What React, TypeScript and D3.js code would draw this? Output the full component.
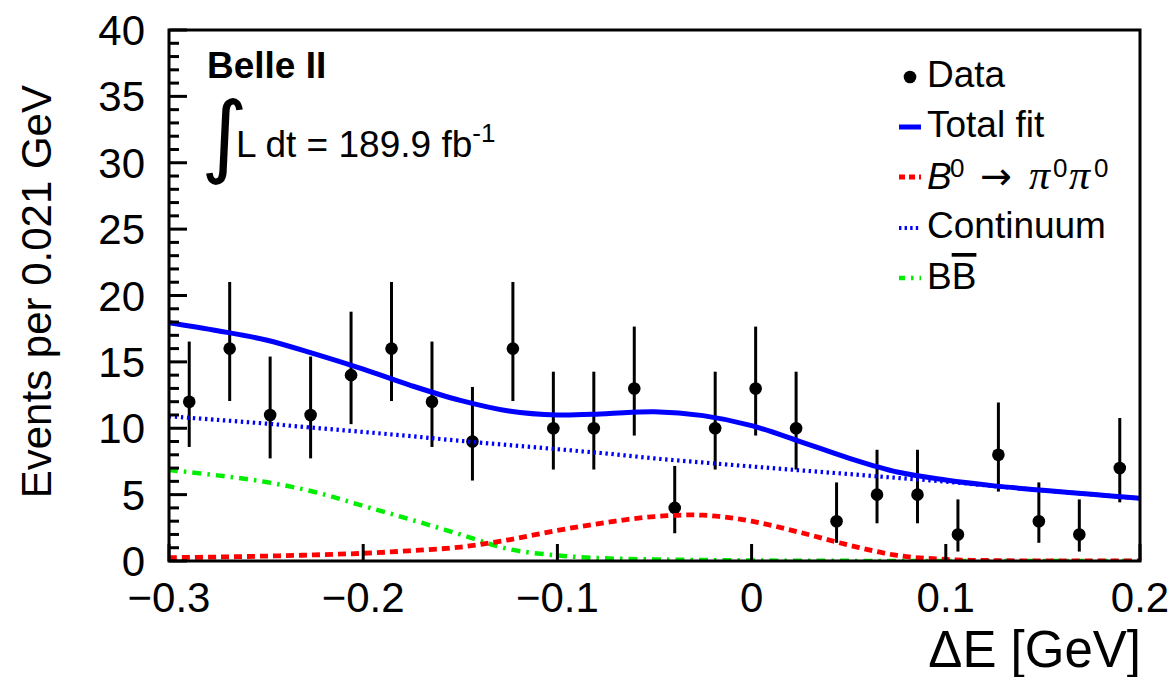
import React from 'react';
import * as d3 from 'd3';

// ---- data ----
const xRange = [-0.3, 0.2];
const yRange = [0, 40];
const nBins = 24;
const counts = [12, 16, 11, 11, 14, 16, 12, 9, 16, 10, 10, 13, 4, 10, 13, 10, 3, 5, 5, 2, 8, 3, 2, 7];
const errLo = [3.41, 3.95, 3.27, 3.27, 3.69, 3.95, 3.41, 2.94, 3.95, 3.11, 3.11, 3.55, 1.91, 3.11, 3.55, 3.11, 1.63, 2.16, 2.16, 1.29, 2.77, 1.63, 1.29, 2.58];
const errHi = [4.53, 5.02, 4.4, 4.4, 4.78, 5.02, 4.53, 4.11, 5.02, 4.26, 4.26, 4.66, 3.16, 4.26, 4.66, 4.26, 2.92, 3.38, 3.38, 2.64, 3.94, 2.92, 2.64, 3.77];

const curveX = [-0.3, -0.275, -0.25, -0.225, -0.2, -0.175, -0.15, -0.125, -0.1, -0.075, -0.05, -0.025, 0, 0.025, 0.05, 0.075, 0.1, 0.125, 0.15, 0.175, 0.2];
const totalFit = [17.95, 17.35, 16.65, 15.6, 14.45, 13.2, 12.1, 11.3, 11.0, 11.1, 11.25, 10.95, 10.2, 9.0, 7.75, 6.7, 6.1, 5.66, 5.33, 5.03, 4.72];
const signal = [0.25, 0.3, 0.37, 0.46, 0.58, 0.78, 1.05, 1.6, 2.3, 2.9, 3.35, 3.45, 3.0, 2.15, 1.2, 0.42, 0.12, 0.03, 0.01, 0, 0];
const continuum = [10.9, 10.63, 10.35, 10.03, 9.72, 9.4, 9.05, 8.73, 8.42, 8.1, 7.73, 7.42, 7.12, 6.83, 6.55, 6.26, 5.98, 5.64, 5.32, 5.02, 4.72];
const bbbar = [6.85, 6.45, 5.95, 5.2, 4.15, 3.1, 2.0, 0.9, 0.42, 0.2, 0.12, 0.07, 0.04, 0.02, 0.01, 0, 0, 0, 0, 0, 0];

const xTicks = [-0.3, -0.2, -0.1, 0, 0.1, 0.2];
const yTicks = [0, 5, 10, 15, 20, 25, 30, 35, 40];
const yMinorTicks = d3.range(0, 41, 1);

const FONT = '"Liberation Sans", Arial, Helvetica, sans-serif';
const SERIF = '"Liberation Serif", "Times New Roman", serif';

export default function App() {
  const W = 1175, H = 677;
  const L = 169, R = 1140, T = 30, B = 561;
  const x = d3.scaleLinear().domain(xRange).range([L, R]);
  const y = d3.scaleLinear().domain(yRange).range([B, T]);
  const binW = (xRange[1] - xRange[0]) / nBins;
  const centers = counts.map((_, i) => xRange[0] + (i + 0.5) * binW);

  const mkLine = (vals: number[]) =>
    d3.line<number>().x((_, i) => x(curveX[i])).y((v) => y(v)).curve(d3.curveCatmullRom.alpha(0.5))(vals) || '';

  const fmtX = (v: number) => (v < 0 ? '\u2212' : '') + (v === 0 ? '0' : Math.abs(v).toFixed(1));

  return (
    <svg width={W} height={H} style={{ position: 'absolute', left: 0, top: 0, background: '#fff' }} fontFamily={FONT}>
      <defs>
        <clipPath id="plotclip">
          <rect x={L} y={T} width={R - L} height={B - T} />
        </clipPath>
      </defs>
      <rect x={0} y={0} width={W} height={H} fill="#fff" />

      {/* data error bars and markers */}
      <g>
        {counts.map((c, i) => (
          <line key={'e' + i} x1={x(centers[i])} x2={x(centers[i])} y1={y(c - errLo[i])} y2={y(c + errHi[i])} stroke="#000" strokeWidth={3} />
        ))}
        {counts.map((c, i) => (
          <circle key={'m' + i} cx={x(centers[i])} cy={y(c)} r={6.3} fill="#000" />
        ))}
      </g>

      {/* curves */}
      <g clipPath="url(#plotclip)" fill="none">
        <path d={mkLine(continuum)} stroke="#0000ff" strokeWidth={4.2} strokeDasharray="2.4 3.6" />
        <path d={mkLine(bbbar)} stroke="#00ee00" strokeWidth={4.5} strokeDasharray="9 6 2.5 6" />
        <path d={mkLine(signal)} stroke="#ff0000" strokeWidth={4.8} strokeDasharray="8 5" />
        <path d={mkLine(totalFit)} stroke="#0000ff" strokeWidth={5} />
      </g>

      {/* frame */}
      <rect x={L} y={T} width={R - L} height={B - T} fill="none" stroke="#000" strokeWidth={3} />

      {/* y ticks */}
      {yMinorTicks.map((v) => (
        <line key={'ym' + v} x1={L} x2={L + (v % 5 === 0 ? 18 : 10)} y1={y(v)} y2={y(v)} stroke="#000" strokeWidth={3} />
      ))}
      {yTicks.map((v) => (
        <text key={'yl' + v} x={L - 24} y={y(v)} dy="0.36em" textAnchor="end" fontSize={42} fill="#000">{v}</text>
      ))}

      {/* x ticks */}
      {xTicks.map((v) => (
        <line key={'xt' + v} x1={x(v)} x2={x(v)} y1={B} y2={B - 17} stroke="#000" strokeWidth={3} />
      ))}
      {xTicks.map((v) => (
        <text key={'xl' + v} x={x(v)} y={612} textAnchor="middle" fontSize={42} fill="#000">{fmtX(v)}</text>
      ))}

      {/* axis titles */}
      <text x={1141} y={667} textAnchor="end" fontSize={51} fill="#000">ΔE [GeV]</text>
      <text transform="translate(51,85) rotate(-90)" textAnchor="end" fontSize={42} fill="#000">Events per 0.021 GeV</text>

      {/* Belle II label */}
      <text x={207} y={78} fontSize={37} fontWeight="bold" fill="#000">Belle II</text>
      <text x={201} y={166} fontSize={90} fontFamily='"DejaVu Sans", sans-serif' fill="#000">∫</text>
      <text x={236} y={157} fontSize={37} fill="#000">
        L dt = 189.9 fb<tspan dy={-15} fontSize={26}>-1</tspan>
      </text>

      {/* legend */}
      <g fontSize={37} fill="#000">
        <circle cx={910} cy={77} r={6.3} fill="#000" />
        <text x={927} y={87}>Data</text>
        <line x1={899} x2={921} y1={127} y2={127} stroke="#0000ff" strokeWidth={5} />
        <text x={927} y={137}>Total fit</text>
        <line x1={899} x2={921} y1={177} y2={177} stroke="#ff0000" strokeWidth={4.8} strokeDasharray="6 4" />
        <text x={927} y={189}>
          <tspan fontStyle="italic">B</tspan>
          <tspan x={950} dy={-12} fontSize={26}>0</tspan>
          <tspan x={980} dy={12} fontFamily='"DejaVu Sans", sans-serif' fontSize={38}>→</tspan>
          <tspan x={1029} fontFamily={SERIF} fontStyle="italic" fontSize={42}>π</tspan>
          <tspan x={1053} dy={-12} fontSize={26}>0</tspan>
          <tspan x={1069} dy={12} fontFamily={SERIF} fontStyle="italic" fontSize={42}>π</tspan>
          <tspan x={1094} dy={-12} fontSize={26}>0</tspan>
        </text>
        <line x1={899} x2={921} y1={228} y2={228} stroke="#0000ff" strokeWidth={4.2} strokeDasharray="2.4 3.2" />
        <text x={927} y={238}>Continuum</text>
        <line x1={899} x2={921} y1={278} y2={278} stroke="#00ee00" strokeWidth={4.5} strokeDasharray="6 6 2.5 6" />
        <text x={927} y={289}>
          B<tspan style={{ textDecoration: 'overline' }}>B</tspan>
        </text>
      </g>
    </svg>
  );
}
